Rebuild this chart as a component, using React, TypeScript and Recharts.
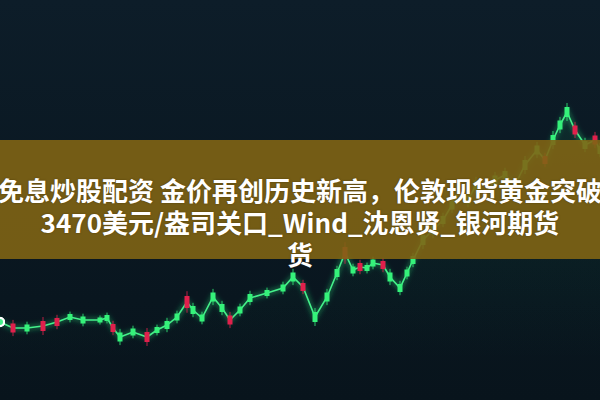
import React from "react";
import { ComposedChart, Line, Area, XAxis, YAxis } from "recharts";

// trading-day positions along the time axis
const days = [0,13,27,43,57,70,83,100,107,113,120,133,147,157,167,177,187,193,202,213,222,230,240,250,267,283,293,303,315,327,337,345,353,360,367,373,383,390,400,407,413,423,433,443,452,460,468,476,485,495,505,515,525,537,545,553,560,567,575,585,595,600];
// price level (chart units)
const prices = [78,72,72,74,78,83,80,80,82,72,63,68,63,70,75,83,98,90,82,103,92,80,90,102,107,112,123,113,83,103,127,147,130,133,132,137,135,123,112,127,140,160,170,180,195,210,200,215,205,220,225,215,235,250,240,260,275,288,270,255,260,250];
// candle direction: 1 up (green), -1 down (red)
const dirs = [1,-1,1,-1,-1,1,1,1,1,-1,1,1,-1,1,1,1,-1,1,1,1,1,-1,1,1,1,1,1,-1,1,1,1,-1,1,-1,1,1,-1,1,1,1,1,1,1,1,1,-1,1,1,-1,1,1,-1,1,1,-1,1,1,1,-1,1,-1,1];
// candle body size (chart units)
const bodies = [6,9,7,10,8,6,7,5,6,8,9,7,10,6,8,7,12,8,7,9,8,9,7,8,6,7,9,8,10,9,8,12,7,8,6,7,8,9,8,7,8,10,9,8,9,10,8,9,8,9,8,9,10,9,8,10,9,10,9,8,9,8];

const title1 = "免息炒股配资 金价再创历史新高，伦敦现货黄金突破";
const title2 = "3470美元/盎司关口_Wind_沈恩贤_银河期货";
const title3 = "货";

const data = days.map((d, i) => ({ day: d, price: prices[i], dir: dirs[i], body: bodies[i] }));

const Candle = (props: any) => {
  const { cx, cy, payload, index } = props;
  if (cx == null || cy == null) return <g key={index} />;
  const up = payload.dir > 0;
  const h = payload.body;
  const color = up ? "#35f27a" : "#e0204c";
  return (
    <g key={index}>
      <line x1={cx} x2={cx} y1={cy - h * 0.9} y2={cy + h * 0.9} stroke={color} strokeWidth={1} opacity={0.8} />
      <rect x={cx - 2.5} y={cy - h / 2} width={5} height={h} fill={color} />
    </g>
  );
};

export default function App() {
  return (
    <div style={{ position: "fixed", left: 0, top: 0, width: 600, height: 400, overflow: "hidden",
      background: "linear-gradient(180deg, #0d1d29 0%, #0a1822 50%, #08141c 100%)" }}>
      <ComposedChart width={600} height={400} data={data} margin={{ top: 0, right: 0, bottom: 0, left: 0 }}>
        <defs>
          <linearGradient id="glow" x1="0" y1="0" x2="0" y2="1">
            <stop offset="0%" stopColor="#1fbf6a" stopOpacity={0.18} />
            <stop offset="100%" stopColor="#1fbf6a" stopOpacity={0} />
          </linearGradient>
          <filter id="blur" x="-10%" y="-10%" width="120%" height="120%">
            <feGaussianBlur stdDeviation="2.5" />
          </filter>
        </defs>
        <XAxis dataKey="day" type="number" domain={[0, 600]} hide />
        <YAxis type="number" domain={[0, 400]} hide />
        <Area dataKey="price" type="linear" stroke="none" fill="url(#glow)" baseValue={40} isAnimationActive={false} />
        <Line dataKey="price" type="linear" stroke="#2fe27a" strokeWidth={5} strokeOpacity={0.35}
          style={{ filter: "url(#blur)" }} dot={false} isAnimationActive={false} />
        <Line dataKey="price" type="linear" stroke="#45f08a" strokeWidth={1.6} dot={<Candle />} isAnimationActive={false} />
      </ComposedChart>
      <div style={{ position: "absolute", left: 0, top: 140, width: 600, height: 119,
        background: "rgba(128,100,20,0.9)" }} />
      <div style={{ position: "absolute", left: -20, top: 174, width: 640, textAlign: "center",
        fontFamily: "'Noto Sans CJK SC', 'Noto Sans', sans-serif", fontWeight: 700, fontSize: 26,
        lineHeight: "32px", color: "#ffffff", whiteSpace: "nowrap",
        textShadow: "0 0 2px rgba(60,40,0,0.6)" }}>
        <div>{title1}</div>
        <div>{title2}</div>
        <div>{title3}</div>
      </div>
    </div>
  );
}
